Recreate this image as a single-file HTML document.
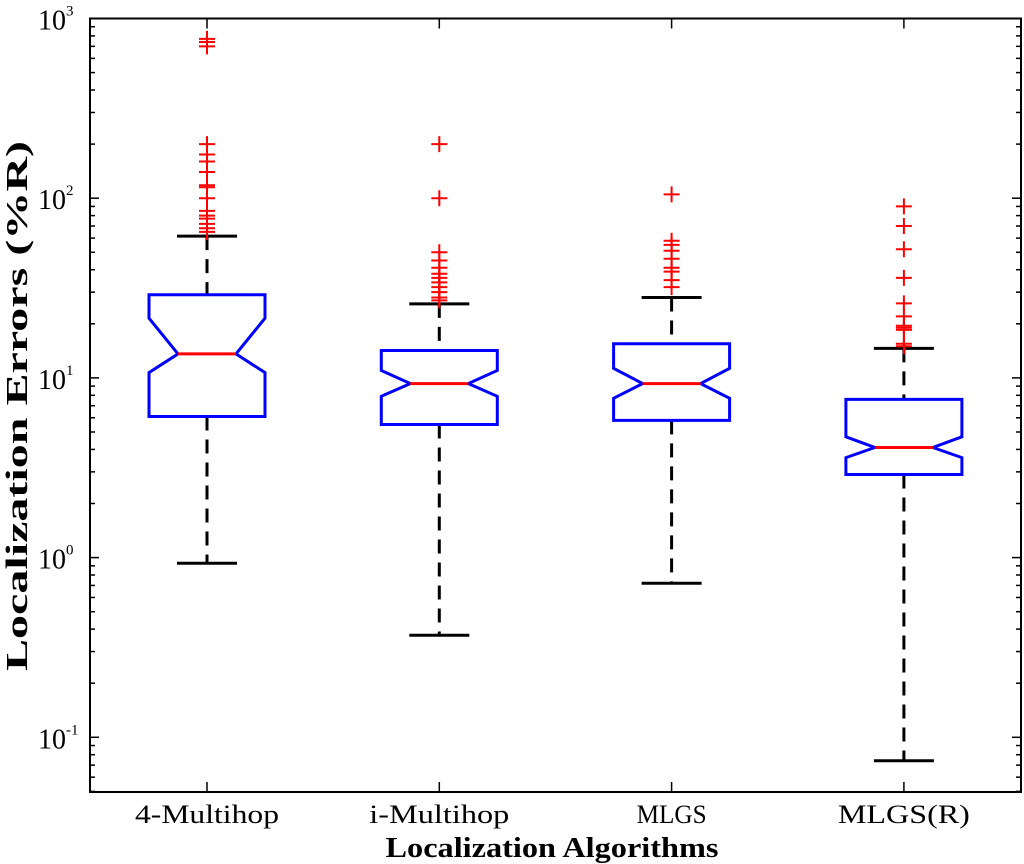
<!DOCTYPE html>
<html><head><meta charset="utf-8"><style>
html,body{margin:0;padding:0;background:#fff;}
svg{display:block;font-family:"Liberation Serif",serif;}
</style></head><body>
<svg id="chart" width="1024" height="864" viewBox="0 0 1024 864"></svg>
<script>
const categories = ["4-Multihop","i-Multihop","MLGS","MLGS(R)"];
const whiskerHigh = [61.5, 25.8, 28, 14.6];
const q3 = [29, 14.2, 15.5, 7.6];
const median = [13.6, 9.3, 9.3, 4.1];
const q1 = [6.1, 5.5, 5.8, 2.9];
const whiskerLow = [0.93, 0.37, 0.72, 0.074];
const notchHigh = [21.5, 11.0, 11.3, 4.7];
const notchLow = [10.7, 7.9, 7.7, 3.6];
const outliers = [
  [770,740,700,200,175,160,140,118,115,100,85,80,77,72,68,65],
  [200,100,50,45,41,38,36,34,32,30,28,27],
  [105,58,55,51,46,41,39,35,32],
  [90,70,52,36,26,22,19.5,19,18.5,15.5,15]
];
const yTickExps = [-1,0,1,2,3];
const labelWidths = [144,140,70,132];

const NS="http://www.w3.org/2000/svg";
const svg=document.getElementById('chart');
const L=90,R=1021,T=18.5,B=792;
const decadePx=179.7;
function yScale(v){return T+(3-Math.log10(v))*decadePx;}
function xScale(i){return 207+i*232.3;}
function mk(tag,attrs,parent){const e=document.createElementNS(NS,tag);for(const k in attrs)e.setAttribute(k,attrs[k]);(parent||svg).appendChild(e);return e;}

const ax=mk('rect',{x:L,y:T,width:R-L,height:B-T,fill:'none',stroke:'#000','stroke-width':2});



const minV=Math.pow(10,3-(B-T)/decadePx);
for(let e=-2;e<=3;e++){
  for(let m=1;m<=9;m++){
    const v=m*Math.pow(10,e);
    if(v<minV||v>1000.001)continue;
    const y=yScale(v);const len=m===1?9:5;
    mk('line',{x1:L,x2:L+len,y1:y,y2:y,stroke:'#000','stroke-width':1.5});
    mk('line',{x1:R,x2:R-len,y1:y,y2:y,stroke:'#000','stroke-width':1.5});
  }
}
yTickExps.forEach(e=>{
  const y=yScale(Math.pow(10,e));
  const t=mk('text',{x:38,y:y+11,'font-size':28});
  
  
  t.appendChild(document.createTextNode('10'));
  const s=mk('tspan',{dy:-14,'font-size':15},t);s.textContent=String(e);
});

categories.forEach((c,i)=>{
  const x=xScale(i);
  mk('line',{x1:x,x2:x,y1:B,y2:B-10,stroke:'#000','stroke-width':1.5});
  mk('line',{x1:x,x2:x,y1:T,y2:T+10,stroke:'#000','stroke-width':1.5});
  const t=mk('text',{x:x,y:823,'font-size':26,'text-anchor':'middle',textLength:labelWidths[i],lengthAdjust:'spacingAndGlyphs'});
  
  
  t.textContent=c;

  const g=mk('g',{});
  
  
  mk('line',{x1:x,x2:x,y1:yScale(whiskerHigh[i]),y2:yScale(q3[i]),stroke:'#000','stroke-width':3,'stroke-dasharray':'14 9'},g);
  mk('line',{x1:x,x2:x,y1:yScale(q1[i]),y2:yScale(whiskerLow[i]),stroke:'#000','stroke-width':3,'stroke-dasharray':'14 9'},g);
  [whiskerHigh[i],whiskerLow[i]].forEach(v=>{
    mk('line',{x1:x-30,x2:x+30,y1:yScale(v),y2:yScale(v),stroke:'#000','stroke-width':3},g);
  });
  const hw=58,nw=29;
  const pts=[[x-hw,yScale(q3[i])],[x+hw,yScale(q3[i])],[x+hw,yScale(notchHigh[i])],[x+hw-nw,yScale(median[i])],[x+hw,yScale(notchLow[i])],[x+hw,yScale(q1[i])],[x-hw,yScale(q1[i])],[x-hw,yScale(notchLow[i])],[x-hw+nw,yScale(median[i])],[x-hw,yScale(notchHigh[i])]];
  mk('polygon',{points:pts.map(p=>p.join(',')).join(' '),fill:'none',stroke:'#0000ff','stroke-width':3},g);
  mk('line',{x1:x-hw+nw,x2:x+hw-nw,y1:yScale(median[i]),y2:yScale(median[i]),stroke:'#ff0000','stroke-width':3},g);
  outliers[i].forEach(v=>{
    const y=yScale(v);
    const o=mk('path',{d:`M${x-8},${y}H${x+8}M${x},${y-8}V${y+8}`,stroke:'#ff0000','stroke-width':2,fill:'none'},g);
    
    
  });
});

const xl=mk('text',{x:552,y:857,'font-size':29,'font-weight':'bold','text-anchor':'middle',textLength:333,lengthAdjust:'spacingAndGlyphs'});


xl.textContent='Localization Algorithms';
const yl=mk('text',{x:0,y:0,'font-size':31,'font-weight':'bold','text-anchor':'middle',textLength:530,lengthAdjust:'spacingAndGlyphs',transform:'translate(27,406) rotate(-90)'});


yl.textContent='Localization Errors (%R)';
</script>
</body></html>
